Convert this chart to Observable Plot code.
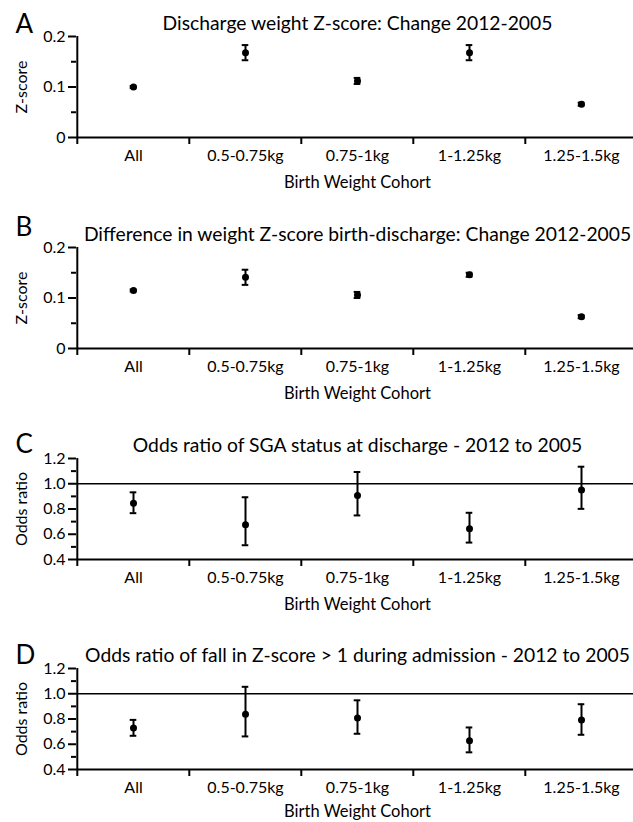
<!DOCTYPE html>
<html><head><meta charset="utf-8">
<script src="https://cdn.jsdelivr.net/npm/d3@7"></script>
<script src="https://cdn.jsdelivr.net/npm/@observablehq/plot@0.6"></script>
<style>
html,body{margin:0;padding:0;background:#fff;overflow:hidden;}
#chart svg{display:block;}
</style></head><body><div id="chart"></div>
<script>
const categories = ["All", "0.5-0.75kg", "0.75-1kg", "1-1.25kg", "1.25-1.5kg"];
const panelLetters = ["A", "B", "C", "D"];
const titles = [
  "Discharge weight Z-score: Change 2012-2005",
  "Difference in weight Z-score birth-discharge: Change 2012-2005",
  "Odds ratio of SGA status at discharge - 2012 to 2005",
  "Odds ratio of fall in Z-score > 1 during admission - 2012 to 2005"
];
const yLabels = ["Z-score", "Z-score", "Odds ratio", "Odds ratio"];
const xLabel = "Birth Weight Cohort";

// Panel A: discharge weight Z-score change
const aMean = [0.100, 0.168, 0.112, 0.168, 0.066];
const aLow  = [0.098, 0.153, 0.106, 0.153, 0.063];
const aHigh = [0.102, 0.183, 0.118, 0.183, 0.069];
// Panel B: difference in weight Z-score birth-discharge
const bMean = [0.115, 0.141, 0.106, 0.146, 0.063];
const bLow  = [0.113, 0.126, 0.100, 0.142, 0.060];
const bHigh = [0.117, 0.156, 0.112, 0.150, 0.066];
// Panel C: odds ratio SGA at discharge
const cMean = [0.846, 0.675, 0.906, 0.644, 0.951];
const cLow  = [0.767, 0.513, 0.749, 0.534, 0.801];
const cHigh = [0.932, 0.893, 1.093, 0.770, 1.135];
// Panel D: odds ratio of fall in Z-score > 1
const dMean = [0.728, 0.838, 0.807, 0.628, 0.793];
const dLow  = [0.667, 0.662, 0.683, 0.536, 0.675];
const dHigh = [0.793, 1.055, 0.948, 0.733, 0.917];

const zDomain = [0, 0.2], zTicks = [0, 0.1, 0.2], zMinor = [0.05, 0.15];
const orDomain = [0.4, 1.2], orTicks = [0.4, 0.6, 0.8, 1.0, 1.2], orMinor = [0.5, 0.7, 0.9, 1.1];
const orRef = 1.0;

const zFmt = d => d === 0 ? "0" : d.toFixed(1);
const orFmt = d => d.toFixed(1);

function panel({letter, title, yLabel, mean, low, high, domain, ticks, minor, fmt, ref, letterDy, xLabelDy, height}) {
  const data = categories.map((c, i) => ({cat: c, m: mean[i], lo: low[i], hi: high[i]}));
  const xr = [76, 638];
  const bw = (xr[1] - xr[0]) / categories.length;
  const marks = [];
  if (ref != null) marks.push(Plot.ruleY([ref], {stroke: "#000", strokeWidth: 1.5}));
  marks.push(
    Plot.ruleY([domain[0]], {stroke: "#000", strokeWidth: 2}),
    Plot.ruleX([categories[0]], {x: d => d, dx: -bw / 2, stroke: "#000", strokeWidth: 2}),
    Plot.ruleX(categories, {x: d => d, dx: -bw / 2, y1: domain[0], y2: domain[0], insetBottom: -7, stroke: "#000", strokeWidth: 2}),
    Plot.axisY({ticks, tickSize: 8, tickPadding: 3, tickFormat: fmt, fontSize: 16, label: null, strokeWidth: 2}),
    Plot.axisY({ticks: minor, tickSize: 5, tickFormat: () => "", label: null, strokeWidth: 2}),
    Plot.axisX({tickSize: 0, tickPadding: 12, fontSize: 16, label: null}),
    Plot.ruleX(data, {x: "cat", y1: "lo", y2: "hi", stroke: "#000", strokeWidth: 2}),
    Plot.tickY(data, {x: "cat", y: "hi", inset: (bw - 7) / 2, stroke: "#000", strokeWidth: 2}),
    Plot.tickY(data, {x: "cat", y: "lo", inset: (bw - 7) / 2, stroke: "#000", strokeWidth: 2}),
    Plot.dot(data, {x: "cat", y: "m", r: 3.5, fill: "#000"}),
    Plot.text([title], {text: d => d, frameAnchor: "top", dx: 2.5, dy: -7, lineAnchor: "bottom", fontSize: 19.3}),
    Plot.text([letter], {text: d => d, frameAnchor: "top-left", dx: -61, dy: letterDy, textAnchor: "start", lineAnchor: "bottom", fontSize: 26}),
    Plot.text([yLabel], {text: d => d, frameAnchor: "left", dx: -55, rotate: -90, textAnchor: "middle", lineAnchor: "middle", fontSize: 16}),
    Plot.text([xLabel], {text: d => d, frameAnchor: "bottom", dx: 2.5, dy: xLabelDy, lineAnchor: "middle", fontSize: 16.5})
  );
  return Plot.plot({
    width: 633,
    height,
    marginLeft: 76,
    marginRight: 0,
    marginTop: 36,
    marginBottom: height - 137,
    x: {type: "band", domain: categories, range: xr, padding: 0, axis: null},
    y: {domain, axis: null},
    style: {fontFamily: "Lato, sans-serif", fontSize: "16px", background: "white", color: "#000"},
    marks
  });
}

const chart = document.getElementById("chart");
const specs = [
  {mean: aMean, low: aLow, high: aHigh, domain: zDomain, ticks: zTicks, minor: zMinor, fmt: zFmt, ref: null, letterDy: -4, xLabelDy: 45, height: 211},
  {mean: bMean, low: bLow, high: bHigh, domain: zDomain, ticks: zTicks, minor: zMinor, fmt: zFmt, ref: null, letterDy: -12, xLabelDy: 45, height: 211},
  {mean: cMean, low: cLow, high: cHigh, domain: orDomain, ticks: orTicks, minor: orMinor, fmt: orFmt, ref: orRef, letterDy: -6, xLabelDy: 45, height: 210},
  {mean: dMean, low: dLow, high: dHigh, domain: orDomain, ticks: orTicks, minor: orMinor, fmt: orFmt, ref: orRef, letterDy: -5, xLabelDy: 42, height: 190}
];
specs.forEach((s, i) => {
  chart.appendChild(panel({...s, letter: panelLetters[i], title: titles[i], yLabel: yLabels[i]}));
});
</script>
</body></html>
